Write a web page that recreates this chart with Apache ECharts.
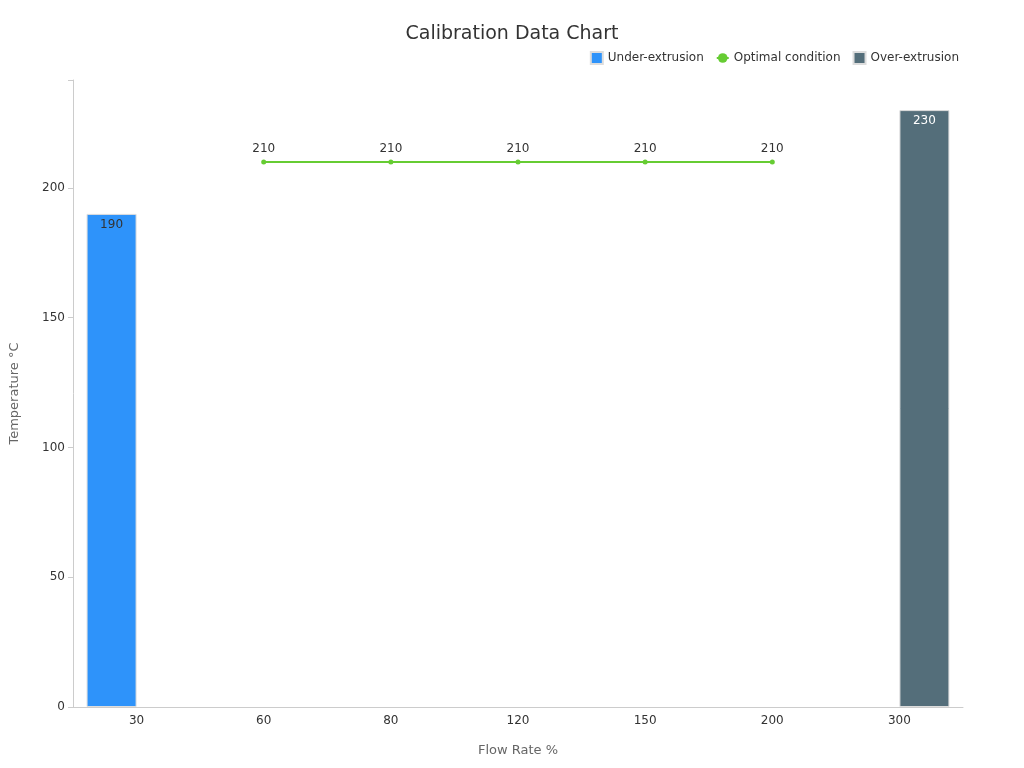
<!DOCTYPE html><html><head><meta charset="utf-8"><script src="https://cdn.jsdelivr.net/npm/echarts@6/dist/echarts.min.js"></script></head><body style="margin:0"><div id="c" style="width:1024px;height:768px"></div><script>
const categories=['30','60','80','120','150','200','300'];
const under=[190,null,null,null,null,null,null];
const optimal=[null,210,210,210,210,210,null];
const over=[null,null,null,null,null,null,230];
const c=echarts.init(document.getElementById('c'));
c.setOption({
title:{text:'Calibration Data Chart',left:'center',top:20,textStyle:{fontSize:19,fontWeight:'normal',color:'#333',fontFamily:'DejaVu Sans'}},
legend:{right:60,top:46,itemWidth:12,itemHeight:12,itemGap:12,textStyle:{fontSize:12,color:'#333'},data:[{name:'Under-extrusion',icon:'rect'},'Optimal condition',{name:'Over-extrusion',icon:'rect'}]},
textStyle:{fontFamily:'DejaVu Sans'},
grid:{left:68,right:61,top:80,bottom:61},
xAxis:{type:'category',data:categories,name:'Flow Rate %',nameLocation:'middle',nameGap:37,nameTextStyle:{fontSize:13,color:'#666'},axisLine:{lineStyle:{color:'#ccc'}},axisTick:{alignWithLabel:true,lineStyle:{color:'#ccc'}},axisLabel:{color:'#333',fontSize:12}},
yAxis:{type:'value',min:0,max:241.6,interval:50,name:'Temperature °C',nameLocation:'middle',nameGap:52,nameTextStyle:{fontSize:13,color:'#666'},axisLine:{show:true,lineStyle:{color:'#ccc'}},axisTick:{show:true,lineStyle:{color:'#ccc'}},splitLine:{show:false},axisLabel:{color:'#333',fontSize:12,formatter:v=>v%50===0?v:''}},
series:[
{name:'Under-extrusion',type:'bar',data:under,barWidth:50,barGap:'0%',itemStyle:{color:'#2E93FA',borderColor:'#ddd',borderWidth:1},label:{show:true,position:'insideTop',color:'#333',fontSize:12}},
{name:'Optimal condition',type:'line',data:optimal,symbol:'circle',symbolSize:5,itemStyle:{color:'#66CC33'},lineStyle:{color:'#66CC33',width:2},label:{show:true,position:'top',color:'#333',fontSize:12}},
{name:'Over-extrusion',type:'bar',data:over,barWidth:50,itemStyle:{color:'#546E7A',borderColor:'#ddd',borderWidth:1},label:{show:true,position:'insideTop',color:'#fff',fontSize:12}}
]});
</script></body></html>
